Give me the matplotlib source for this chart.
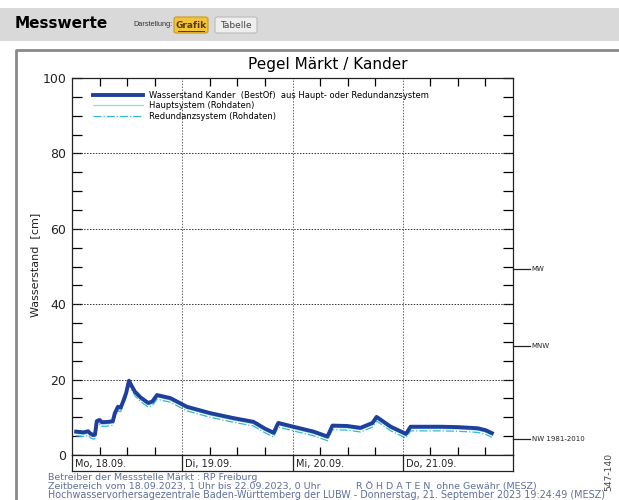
import matplotlib
matplotlib.use("Agg")
import matplotlib.pyplot as plt
from matplotlib.patches import Rectangle, FancyBboxPatch
from matplotlib.lines import Line2D

# Stunden ab 18.09.2023 0 Uhr
stunden = [0.9, 2.5, 3.5, 4.0, 4.6, 5.0, 5.4, 6.0, 6.5, 8.0, 8.9, 9.3, 10.0, 10.6,
           11.1, 11.8, 12.4, 13.0, 13.7, 15.0, 16.6, 17.5, 18.5, 21.4, 25.0, 30.1,
           35.1, 39.5, 42.0, 43.9, 44.5, 44.9, 48.2, 52.6, 55.6, 56.7, 59.9, 62.8,
           65.4, 66.3, 69.4, 72.7, 73.7, 80.3, 84.0, 88.3, 90.0, 91.4]
# Wasserstand BestOf [cm]
bestof = [6.2, 6.0, 6.3, 5.7, 5.3, 5.4, 9.0, 9.3, 8.7, 8.8, 9.0, 11.0, 12.8, 12.6,
          14.1, 16.5, 19.7, 18.3, 16.8, 15.2, 13.8, 14.2, 15.9, 15.1, 12.8, 11.1,
          9.8, 8.8, 7.0, 5.9, 7.5, 8.5, 7.5, 6.2, 4.9, 7.8, 7.7, 7.2,
          8.5, 10.1, 7.5, 5.6, 7.5, 7.5, 7.4, 7.1, 6.6, 5.8]
haupt = [5.7, 5.5, 5.8, 5.2, 4.8, 4.9, 8.5, 8.8, 8.2, 8.3, 8.5, 10.5, 12.3, 12.1,
         13.6, 16.0, 19.2, 17.8, 16.3, 14.7, 13.3, 13.7, 15.4, 14.6, 12.3, 10.6,
         9.3, 8.3, 6.5, 5.4, 7.0, 8.0, 7.0, 5.7, 4.4, 7.3, 7.2, 6.7,
         8.0, 9.6, 7.0, 5.1, 7.0, 7.0, 6.9, 6.6, 6.1, 5.3]
redundanz = [5.1, 4.9, 5.2, 4.6, 4.2, 4.3, 7.9, 8.2, 7.6, 7.7, 7.9, 9.9, 11.7, 11.5,
             13.0, 15.4, 18.6, 17.2, 15.7, 14.1, 12.7, 13.1, 14.8, 14.0, 11.7, 10.0,
             8.7, 7.7, 5.9, 4.8, 6.4, 7.4, 6.4, 5.1, 3.8, 6.7, 6.6, 6.1,
             7.4, 9.0, 6.4, 4.5, 6.4, 6.4, 6.3, 6.0, 5.5, 4.7]

tage = ["Mo, 18.09.", "Di, 19.09.", "Mi, 20.09.", "Do, 21.09."]
kennwerte = {"MW": 49.3, "MNW": 28.9, "NW 1981-2010": 4.2}
legende = ["Wasserstand Kander  (BestOf)  aus Haupt- oder Redundanzsystem",
           "Hauptsystem (Rohdaten)", "Redundanzsystem (Rohdaten)"]
fusszeilen = ["Betreiber der Messstelle Märkt : RP Freiburg",
              "Zeitbereich vom 18.09.2023, 1 Uhr bis 22.09.2023, 0 Uhr",
              "Hochwasservorhersagezentrale Baden-Württemberg der LUBW - Donnerstag, 21. September 2023 19:24:49 (MESZ)"]

W, H = 619, 500


def fx(x):
    return x / W


def fy(y):
    return 1 - y / H


fig = plt.figure(figsize=(W / 100, H / 100), dpi=100)
fig.patch.set_facecolor("white")

# Kopfzeile der Seite
fig.add_artist(Rectangle((0, fy(41)), 1, (41 - 8) / H, transform=fig.transFigure,
                         facecolor="#d9d9d9", edgecolor="none"))
fig.text(fx(15), fy(24), "Messwerte", fontsize=11, fontweight="bold", va="center")
fig.text(fx(133), fy(25), "Darstellung:", fontsize=5.3, va="center", color="#333333",
         family="Liberation Sans")
fig.add_artist(FancyBboxPatch((fx(174), fy(33)), 34 / W, 16 / H, transform=fig.transFigure,
                              boxstyle="round,pad=0,rounding_size=0.004",
                              facecolor="#f3c43a", edgecolor="#c89a20", lw=0.8))
fig.text(fx(191), fy(25), "Grafik", fontsize=6.5, ha="center", va="center",
         color="#5a3a00", fontweight="bold")
fig.add_artist(Line2D([fx(178), fx(204)], [fy(30.5), fy(30.5)], transform=fig.transFigure,
                      color="#5a3a00", lw=0.7))
fig.add_artist(FancyBboxPatch((fx(215), fy(33)), 42 / W, 16 / H, transform=fig.transFigure,
                              boxstyle="round,pad=0,rounding_size=0.004",
                              facecolor="#eeeeee", edgecolor="#bbbbbb", lw=0.8))
fig.text(fx(236), fy(25), "Tabelle", fontsize=6.5, ha="center", va="center", color="#444444")

# Rahmen um die Grafik
fig.add_artist(Line2D([fx(16), fx(16), 1], [0, fy(50), fy(50)], transform=fig.transFigure,
                      color="#8a8a8a", lw=2))

fig.text(fx(328), fy(64), "Pegel Märkt / Kander", fontsize=11, ha="center", va="center")

ax = fig.add_axes([fx(72), fy(455), 441 / W, (455 - 78) / H])
ax.plot(stunden, bestof, color="#1f3f9c", lw=2.8, solid_joinstyle="round", label=legende[0],
        zorder=3)
ax.plot(stunden, haupt, color="#8adbea", lw=0.9, label=legende[1], zorder=2)
ax.plot(stunden, redundanz, color="#35b9d3", lw=0.9, ls="-.", label=legende[2], zorder=2)

ax.set_xlim(0, 96)
ax.set_ylim(0, 100)
ax.set_xticks([6, 12, 18, 30, 36, 42, 54, 60, 66, 78, 84, 90])
ax.set_xticklabels([])
ax.set_yticks([0, 20, 40, 60, 80, 100])
ax.set_yticks(range(0, 101, 5), minor=True)
ax.tick_params(axis="x", direction="in", length=6, top=True, bottom=True, width=0.9)
ax.tick_params(axis="y", which="both", direction="in", length=7, left=True, right=True,
               width=0.9, labelsize=9, pad=4)
ax.tick_params(axis="y", labelcolor="#222222")
for y in [20, 40, 60, 80]:
    ax.axhline(y, color="#333333", lw=0.7, ls=(0, (1.5, 1.5)))
for x in [24, 48, 72]:
    ax.axvline(x, color="#666666", lw=0.7, ls=(0, (1.5, 1.5)))
for s in ax.spines.values():
    s.set_color("#222222")
    s.set_linewidth(0.9)

for name, wert in kennwerte.items():
    ax.plot([96, 99.6], [wert, wert], color="#222222", lw=0.9, clip_on=False)
    ax.text(100.1, wert, name, fontsize=5, va="center", color="#222222", clip_on=False)

ax.legend(loc="upper left", frameon=False, fontsize=6, handlelength=6,
          bbox_to_anchor=(0.03, 0.985), labelspacing=0.15, handletextpad=0.8)

fig.text(fx(35), fy(265), "Wasserstand  [cm]", fontsize=8, rotation=90, ha="center", va="center",
         color="#222222")

# Tagesleiste
axd = fig.add_axes([fx(72), fy(471), 441 / W, 16 / H])
axd.set_xlim(0, 96)
axd.set_ylim(0, 1)
axd.set_xticks([])
axd.set_yticks([])
for s in axd.spines.values():
    s.set_color("#222222")
    s.set_linewidth(0.9)
for i, tag in enumerate(tage):
    if i > 0:
        axd.axvline(24 * i, color="#222222", lw=0.9)
    axd.text(24 * i + 0.7, 0.45, tag, fontsize=7, va="center", color="#222222")

# Fusszeilen
farbe = "#5f6f9a"
fig.text(fx(48), fy(477), fusszeilen[0], fontsize=6.8, va="center", color=farbe)
fig.text(fx(48), fy(486), fusszeilen[1], fontsize=6.8, va="center", color=farbe)
fig.text(fx(356), fy(486), "R Ö H D A T E N  ohne Gewähr (MESZ)", fontsize=6.8, va="center",
         color=farbe)
fig.text(fx(48), fy(494.5), fusszeilen[2], fontsize=6.9, va="center", color=farbe)
fig.text(fx(609), fy(472), "547-140", fontsize=6.6, rotation=90, ha="center", va="center",
         color="#444444")

fig.savefig("out.png", dpi=100)
